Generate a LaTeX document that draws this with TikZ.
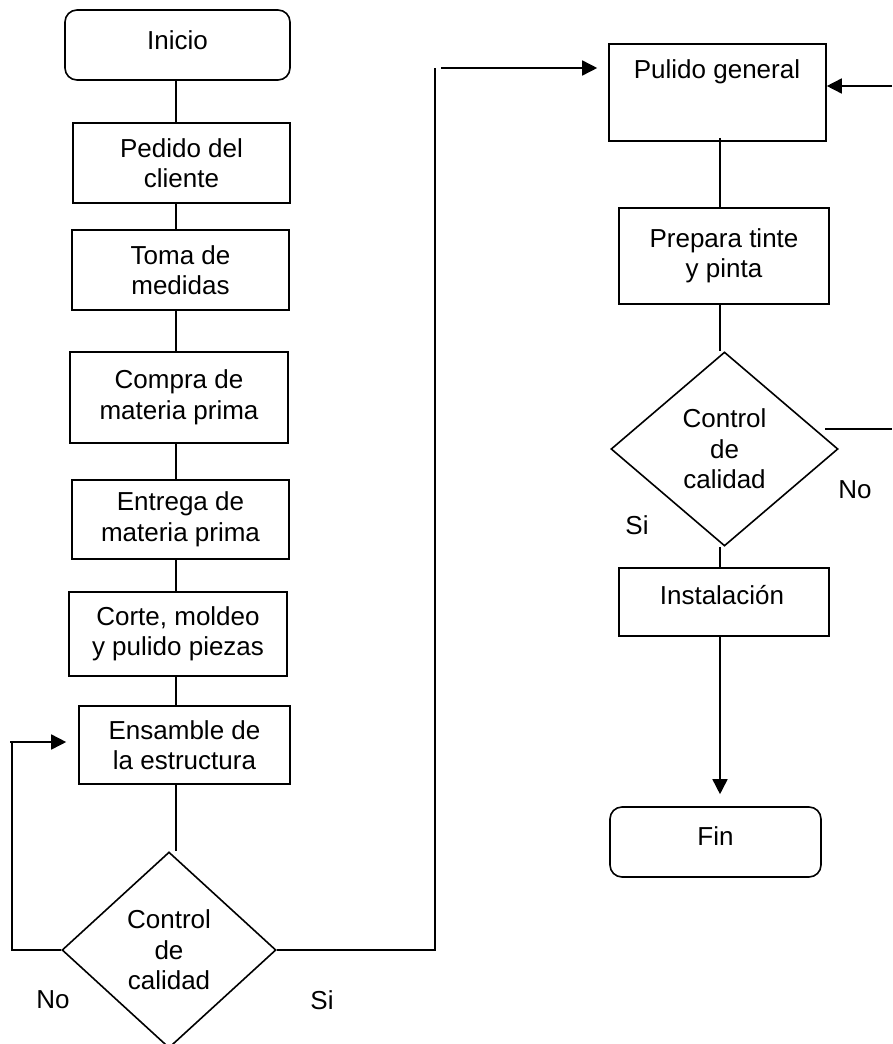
\documentclass[tikz,border=0pt]{standalone}
\usepackage{fontspec}
\setmainfont{Liberation Sans}
\usetikzlibrary{shapes.geometric,arrows.meta}
\newcommand\fs{\fontsize{26}{30.5}\selectfont}
\begin{document}
\begin{tikzpicture}[x=1pt,y=-1pt,
  box/.style={draw, line width=1.6pt, rectangle, inner sep=0pt, align=center, font=\fs},
  term/.style={box, rounded corners=12pt},
  dec/.style={draw, diamond, line width=1.6pt, inner sep=0pt, align=center, font=\fs},
  conn/.style={line width=1.6pt},
  arr/.style={conn, -{Triangle[length=15pt,width=15pt]}},
  lbl/.style={font=\fs, inner sep=0pt}]
\useasboundingbox (0,0) rectangle (892,1044);
% left column
\node[term, minimum width=225pt, minimum height=70pt] (ini) at (177.5,45) {};
\node[lbl] (init) at (177.5,40) {Inicio};
\node[box, minimum width=217pt, minimum height=80pt] (ped) at (181.5,163) {Pedido del\\cliente};
\node[box, minimum width=217pt, minimum height=80pt] (toma) at (180.5,270) {Toma de\\medidas};
\node[box, minimum width=218pt, minimum height=91pt] (comp) at (179,397.5) {Compra de\\materia prima};
\node[box, minimum width=217pt, minimum height=79pt] (entr) at (180.5,519.5) {Entrega de\\materia prima};
\node[box, minimum width=218pt, minimum height=84pt] (corte) at (178,634) {Corte, moldeo\\y pulido piezas};
\node[box, minimum width=211pt, minimum height=78pt] (ens) at (184.5,745) {Ensamble de\\la estructura};
\node[dec, minimum width=214pt, minimum height=196pt] (d1) at (169,950) {Control\\de\\calidad};
% right column
\node[box, minimum width=217pt, minimum height=97pt] (pul) at (717.5,92.5) {};
\node[lbl] (pult) at (717,72) {Pulido general};
\node[box, minimum width=210pt, minimum height=96pt] (prep) at (724,256) {Prepara tinte\\y pinta};
\node[dec, minimum width=227pt, minimum height=194pt] (d2) at (724.5,449) {Control\\de\\calidad};
\node[box, minimum width=210pt, minimum height=68pt] (inst) at (724,602) {};
\node[lbl] (instt) at (722,595) {Instalación};
\node[term, minimum width=211pt, minimum height=70pt] (fin) at (715.5,842) {};
\node[lbl] (fint) at (715.5,836) {Fin};
% labels
\node[lbl] (no1) at (53,1000) {No};
\node[lbl] (si1) at (322,1000) {Si};
\node[lbl] (no2) at (855,490) {No};
\node[lbl] (si2) at (637,525) {Si};
% coordinates
\coordinate (lx) at (176,0);
\coordinate (rx) at (720,0);
\coordinate (sitop) at (435,68);
\coordinate (nol) at (12,742);
\coordinate (n2a) at (825,429);
\coordinate (n2b) at (892,429);
\coordinate (n2c) at (892,86);
% left connectors
\draw[conn] (lx |- ini.south) -- (lx |- ped.north);
\draw[conn] (lx |- ped.south) -- (lx |- toma.north);
\draw[conn] (lx |- toma.south) -- (lx |- comp.north);
\draw[conn] (lx |- comp.south) -- (lx |- entr.north);
\draw[conn] (lx |- entr.south) -- (lx |- corte.north);
\draw[conn] (lx |- corte.south) -- (lx |- ens.north);
\draw[conn] (lx |- ens.south) -- (lx |- d1.north);
\draw[conn] (d1.west) -| (nol);
\draw[arr, shorten >=12pt] ([xshift=-2pt]nol) -- (ens.west |- nol);
\draw[conn] (d1.east) -| (sitop);
\draw[arr, shorten >=11pt] ([xshift=6pt]sitop) -- (pul.west |- sitop);
% right connectors
\draw[conn] ([yshift=4pt]rx |- pul.south) -- (rx |- prep.north);
\draw[conn] (rx |- prep.south) -- (rx |- d2.north);
\draw[conn] (rx |- d2.south) -- (rx |- inst.north);
\draw[arr, shorten >=12pt] (rx |- inst.south) -- (rx |- fin.north);
\draw[conn] (n2a) -- (n2b);
\draw[arr] (n2c) -- (n2c -| pul.east);
\end{tikzpicture}
\end{document}
